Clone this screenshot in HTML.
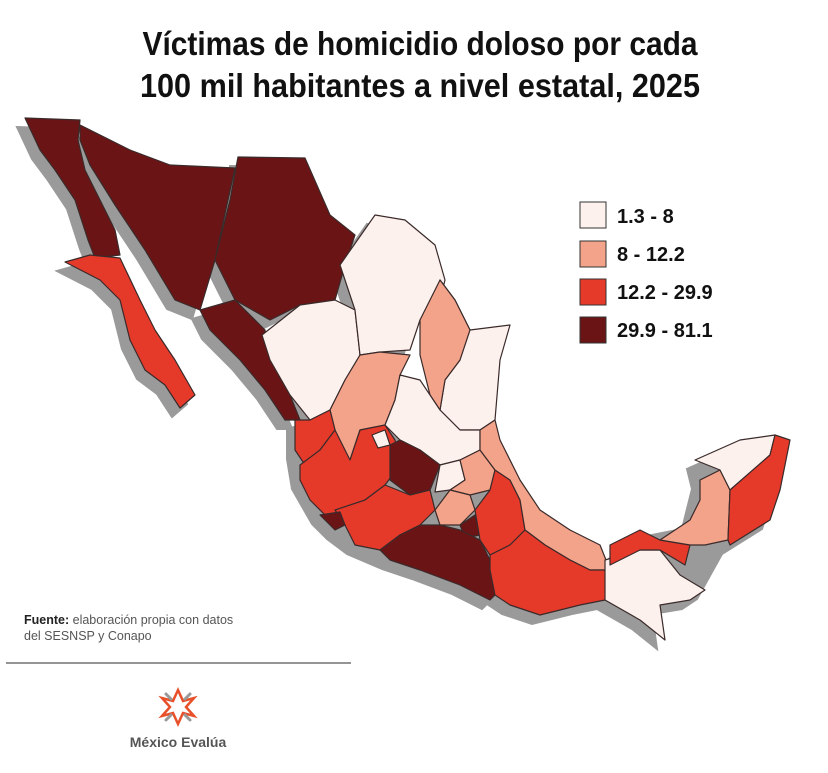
<!DOCTYPE html>
<html><head><meta charset="utf-8"><style>
html,body{margin:0;padding:0;background:#fff;}
svg{display:block;font-family:"Liberation Sans Narrow","Liberation Sans",sans-serif;}
</style></head><body>
<svg width="828" height="773" viewBox="0 0 828 773" xmlns="http://www.w3.org/2000/svg">
<rect width="828" height="773" fill="#fff"/>
<text x="420" y="55" text-anchor="middle" font-size="33" font-weight="bold" fill="#111" textLength="555" lengthAdjust="spacingAndGlyphs">Víctimas de homicidio doloso por cada</text>
<text x="420" y="97" text-anchor="middle" font-size="33" font-weight="bold" fill="#111" textLength="560" lengthAdjust="spacingAndGlyphs">100 mil habitantes a nivel estatal, 2025</text>
<g transform="translate(-8,9)" fill="#9a9a9a" stroke="#9a9a9a" stroke-width="2">
<polygon points="25,118 80,120 78,140 85,170 100,200 115,230 120,255 95,258 88,240 75,200 55,170 40,150"/>
<polygon points="65,262 90,255 120,258 140,300 155,330 175,360 195,395 180,408 165,385 145,370 130,340 120,300 100,280"/>
<polygon points="80,125 130,150 170,165 235,168 215,260 200,310 175,300 145,250 115,205 90,165 80,140"/>
<polygon points="238,157 305,158 330,215 355,235 345,265 335,300 300,305 270,320 235,300 215,260 230,200"/>
<polygon points="200,310 235,300 265,330 270,360 290,395 300,420 285,420 265,390 240,360 210,330"/>
<polygon points="262,335 300,305 335,300 355,310 360,355 345,380 330,410 310,420 290,395 270,360"/>
<polygon points="340,265 375,215 405,220 435,245 445,280 440,300 420,320 410,350 380,352 360,355 355,310"/>
<polygon points="440,280 470,330 510,325 500,360 495,420 480,430 460,430 445,405 445,380 460,360"/>
<polygon points="295,420 330,410 400,375 480,430 500,440 540,510 600,545 610,570 605,600 580,605 540,615 510,605 495,595 490,600 460,585 420,570 390,560 355,545 335,530 320,515 300,480 295,450"/>
<polygon points="605,560 640,530 690,520 700,480 695,460 740,440 790,440 780,490 770,520 730,545 705,590 690,600 660,605 665,640 640,620 605,600"/>
</g>
<g stroke="#3a2a2a" stroke-width="1.2" stroke-linejoin="round">
<polygon fill="#6b1416" points="25,118 80,120 78,140 85,170 100,200 115,230 120,255 95,258 88,240 75,200 55,170 40,150"/>
<polygon fill="#e5392a" points="65,262 90,255 120,258 140,300 155,330 175,360 195,395 180,408 165,385 145,370 130,340 120,300 100,280"/>
<polygon fill="#6b1416" points="80,125 130,150 170,165 235,168 215,260 200,310 175,300 145,250 115,205 90,165 80,140"/>
<polygon fill="#6b1416" points="238,157 305,158 330,215 355,235 345,265 335,300 300,305 270,320 235,300 215,260 230,200"/>
<polygon fill="#6b1416" points="200,310 235,300 265,330 270,360 290,395 300,420 285,420 265,390 240,360 210,330"/>
<polygon fill="#fdf1ee" points="262,335 300,305 335,300 355,310 360,355 345,380 330,410 310,420 290,395 270,360"/>
<polygon fill="#fdf1ee" points="340,265 375,215 405,220 435,245 445,280 440,300 420,320 410,350 380,352 360,355 355,310"/>
<polygon fill="#fdf1ee" points="440,280 455,300 470,330 510,325 500,360 495,420 480,430 460,430 440,410 445,380 460,360"/>
<polygon fill="#f2a38a" points="420,320 440,280 455,300 470,330 460,360 445,380 440,410 430,395 420,355"/>
<polygon fill="#f2a38a" points="330,410 345,380 360,355 380,352 410,355 400,375 395,400 385,425 360,430 350,460 340,460 335,430"/>
<polygon fill="#fdf1ee" points="400,375 420,380 440,410 460,430 480,430 480,450 460,460 440,465 420,450 400,440 385,425 395,400"/>
<polygon fill="#e5392a" points="295,420 310,420 330,410 335,430 320,450 305,465 295,450"/>
<polygon fill="#e5392a" points="300,465 320,450 335,430 350,460 360,430 385,425 395,440 400,465 385,485 365,500 345,510 330,520 310,500 300,480"/>
<polygon fill="#fdf1ee" points="372,435 385,430 390,445 378,448"/>
<polygon fill="#6b1416" points="390,445 400,440 420,450 440,465 430,490 410,495 390,480 390,460"/>
<polygon fill="#fdf1ee" points="440,465 460,460 465,480 450,490 435,492"/>
<polygon fill="#f2a38a" points="460,460 480,450 495,470 490,490 470,495 450,490 465,480"/>
<polygon fill="#e5392a" points="335,510 365,500 385,485 410,495 430,490 435,510 420,525 400,535 380,550 355,545 345,525"/>
<polygon fill="#6b1416" points="320,515 340,512 345,525 335,530"/>
<polygon fill="#f2a38a" points="435,510 450,490 470,495 475,510 460,525 440,525"/>
<polygon fill="#6b1416" points="460,525 475,515 480,535 465,538"/>
<polygon fill="#6b1416" points="380,550 400,535 420,525 440,525 460,530 480,540 490,560 500,590 490,600 460,585 420,570 390,560"/>
<polygon fill="#e5392a" points="495,470 510,480 520,500 525,530 510,545 490,555 480,540 475,510 490,490"/>
<polygon fill="#f2a38a" points="480,430 495,420 500,440 520,480 540,510 570,530 600,545 610,570 590,570 570,560 545,545 525,530 520,500 510,480 495,470 480,450"/>
<polygon fill="#e5392a" points="490,555 510,545 525,530 545,545 570,560 590,570 610,570 605,600 580,605 540,615 510,605 495,595 490,570"/>
<polygon fill="#fdf1ee" points="605,560 640,550 660,550 680,575 705,590 690,600 660,605 665,640 640,620 605,600"/>
<polygon fill="#e5392a" points="610,545 640,530 660,540 690,545 685,565 660,550 640,550 610,565"/>
<polygon fill="#f2a38a" points="660,540 690,520 700,500 700,480 720,470 730,490 728,540 705,545 690,545"/>
<polygon fill="#fdf1ee" points="695,460 740,440 775,435 770,455 730,490 720,470"/>
<polygon fill="#e5392a" points="775,435 790,440 780,490 770,520 730,545 728,540 730,490 770,455"/>
</g>
<g font-size="20" font-weight="bold" fill="#111">
<rect x="580" y="202" width="26" height="26" fill="#fdf1ee" stroke="#333"/><text x="617" y="223">1.3 - 8</text>
<rect x="580" y="241" width="26" height="26" fill="#f2a38a" stroke="#333"/><text x="617" y="261">8 - 12.2</text>
<rect x="580" y="279" width="26" height="26" fill="#e5392a" stroke="#333"/><text x="617" y="299">12.2 - 29.9</text>
<rect x="580" y="317" width="26" height="26" fill="#6b1416" stroke="#333"/><text x="617" y="337">29.9 - 81.1</text>
</g>
<text x="24" y="624" font-size="12.5" fill="#555"><tspan font-weight="bold" fill="#222">Fuente:</tspan> elaboración propia con datos</text>
<text x="24" y="640" font-size="12.5" fill="#555">del SESNSP y Conapo</text>
<line x1="6" y1="663" x2="351" y2="663" stroke="#555" stroke-width="1.3"/>
<g transform="translate(178,707)" stroke-width="3" fill="none" stroke-linecap="round">
<path d="M0,-17 L5,-6 L16,-9 L8,0 L16,9 L5,6 L0,17 L-5,6 L-16,9 L-8,0 L-16,-9 L-5,-6 Z" stroke="#e8502a" stroke-width="2.5"/>
<line x1="-12" y1="-13" x2="-7" y2="-8" stroke="#999"/><line x1="12" y1="-13" x2="7" y2="-8" stroke="#999"/>
<line x1="-12" y1="13" x2="-7" y2="8" stroke="#999"/><line x1="12" y1="13" x2="7" y2="8" stroke="#999"/>
</g>
<text x="178" y="747" text-anchor="middle" font-size="14" font-weight="bold" fill="#555" font-family="Liberation Sans, sans-serif">México Evalúa</text>
</svg>
</body></html>
